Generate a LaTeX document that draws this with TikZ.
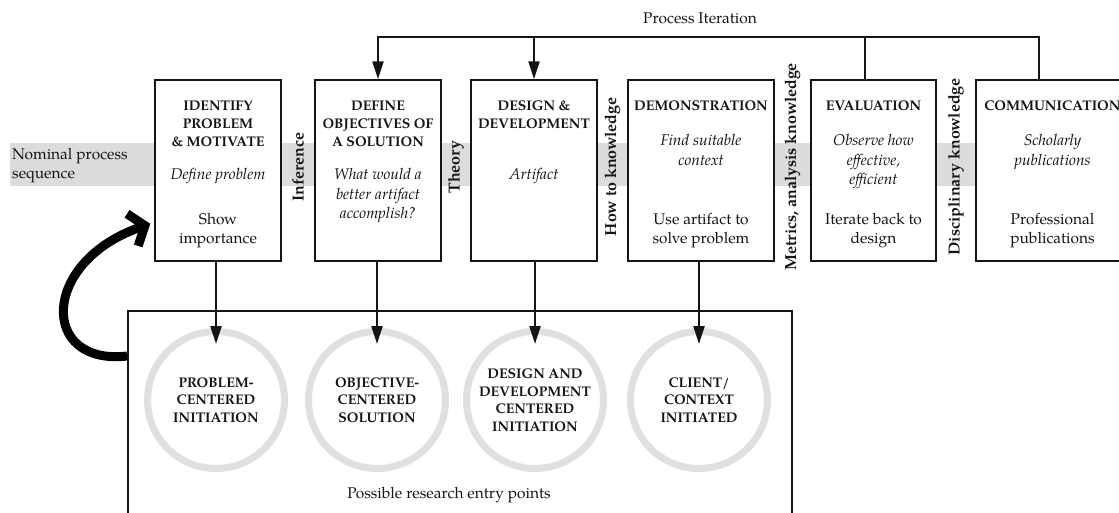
\documentclass[tikz,border=0pt]{standalone}
\usepackage{fontspec}
\setmainfont{texgyrepagella}[Extension=.otf, UprightFont=*-regular, BoldFont=*-bold, ItalicFont=*-italic, BoldItalicFont=*-bolditalic]
\usetikzlibrary{arrows.meta}
\definecolor{bandgray}{RGB}{220,220,220}
\definecolor{ringgray}{RGB}{224,224,224}
\definecolor{ink}{RGB}{20,20,20}
\begin{document}
\begin{tikzpicture}[x=1pt,y=-1pt,
 stagebox/.style={draw=ink, line width=1.5pt, fill=white, minimum height=181pt, inner sep=0pt},
 ttl/.style={anchor=north, align=center, inner sep=0pt, text=ink, font=\fontsize{14}{18}\selectfont\bfseries},
 itl/.style={anchor=north, align=center, inner sep=0pt, text=ink, font=\fontsize{15.5}{19.5}\selectfont\itshape},
 bodytxt/.style={anchor=north, align=center, inner sep=0pt, text=ink, font=\fontsize{15.5}{19.5}\selectfont},
 vlab/.style={rotate=90, inner sep=0pt, text=ink, font=\fontsize{16}{18}\selectfont\bfseries},
 ringnode/.style={circle, draw=ringgray, line width=7pt, minimum size=137pt, inner sep=0pt, align=center, text=ink, font=\fontsize{14}{17.5}\selectfont\bfseries},
 flow/.style={draw=ink, line width=2.2pt},
 arrowed/.style={-{Triangle[length=18pt,width=11pt]}},
]
\useasboundingbox (0,0) rectangle (1119,512);
\clip (0,0) rectangle (1119,512);

% nominal process band
\fill[bandgray] (10,143) rectangle (980,186);
\node[anchor=north west, align=left, inner sep=0pt, text=ink, font=\fontsize{15.5}{19}\selectfont] (nominal) at (12,148) {Nominal process\\sequence};

% stage boxes
\node[stagebox, minimum width=126pt] (box1) at (218,170.5) {};
\node[stagebox, minimum width=126pt] (box2) at (378,170.5) {};
\node[stagebox, minimum width=126pt] (box3) at (534,170.5) {};
\node[stagebox, minimum width=146pt] (box4) at (701,170.5) {};
\node[stagebox, minimum width=125pt] (box5) at (873.5,170.5) {};
\node[stagebox, minimum width=153pt] (box6) at (1052.5,170.5) {};

% box 1
\node[ttl] (t1) at (218,101) {IDENTIFY\\PROBLEM\\\& MOTIVATE};
\node[itl] (i1) at (218,168) {Define problem};
\node[bodytxt] (b1) at (218,213) {Show\\importance};
% box 2
\node[ttl] (t2) at (378,101) {DEFINE\\OBJECTIVES OF\\A SOLUTION};
\node[itl] (i2) at (378,168) {What would a\\better artifact\\accomplish?};
% box 3
\node[ttl] (t3) at (534,101) {DESIGN \&\\DEVELOPMENT};
\node[itl] (i3) at (534,168) {Artifact};
% box 4
\node[ttl] (t4) at (701,101) {DEMONSTRATION};
\node[itl] (i4) at (701,134) {Find suitable\\context};
\node[bodytxt] (b4) at (701,213) {Use artifact to\\solve problem};
% box 5
\node[ttl] (t5) at (873.5,101) {EVALUATION};
\node[itl] (i5) at (873.5,134) {Observe how\\effective,\\efficient};
\node[bodytxt] (b5) at (873.5,213) {Iterate back to\\design};
% box 6
\node[ttl] (t6) at (1052.5,101) {COMMUNICATION};
\node[itl] (i6) at (1052.5,134) {Scholarly\\publications};
\node[bodytxt] (b6) at (1052.5,213) {Professional\\publications};

% knowledge labels
\node[vlab] (k1) at (298,167) {Inference};
\node[vlab] (k2) at (456,167) {Theory};
\node[vlab] (k3) at (612.5,167) {How to knowledge};
\node[vlab] (k4) at (792.5,167) {Metrics, analysis knowledge};
\node[vlab] (k5) at (956,167) {Disciplinary knowledge};

% process iteration
\coordinate (iy) at (0,37);
\node[inner sep=0pt, text=ink, font=\fontsize{15.5}{19}\selectfont] (iterlab) at (700,18) {Process Iteration};
\draw[flow, arrowed] ([xshift=-13.5pt]box6.north) |- (box2.north |- iy) -- (box2.north);
\draw[flow, arrowed] (box3.north |- iy) -- (box3.north);
\draw[flow] ([xshift=-8.5pt]box5.north |- iy) -- ([xshift=-8.5pt]box5.north);

% entry points area
\node[draw=ink, line width=1.5pt, minimum width=664pt, minimum height=230pt, inner sep=0pt, anchor=north west] (entry) at (127,310) {};
\node[inner sep=0pt, text=ink, font=\fontsize{15.5}{19}\selectfont] (entrylab) at (449,495) {Possible research entry points};

\node[ringnode] (c1) at (216,400) {PROBLEM-\\CENTERED\\INITIATION};
\node[ringnode] (c2) at (377,400) {OBJECTIVE-\\CENTERED\\SOLUTION};
\node[ringnode] (c3) at (535,400) {DESIGN AND\\DEVELOPMENT\\CENTERED\\INITIATION};
\node[ringnode] (c4) at (699,400) {CLIENT/\\CONTEXT\\INITIATED};

\draw[flow, arrowed] (box1.south -| c1) -- ([yshift=-16pt]c1.north);
\draw[flow, arrowed] (box2.south -| c2) -- ([yshift=-16pt]c2.north);
\draw[flow, arrowed] (box3.south -| c3) -- ([yshift=-16pt]c3.north);
\draw[flow, arrowed] (box4.south -| c4) -- ([yshift=-16pt]c4.north);

% loop back arrow
\draw[draw=black, line width=9pt, -{Straight Barb[length=13pt,width=34pt]}]
  ([yshift=-46pt]entry.north west) .. controls (40,366) and (40,262) .. ([xshift=-4pt,yshift=38pt]box1.south west);
\end{tikzpicture}
\end{document}
